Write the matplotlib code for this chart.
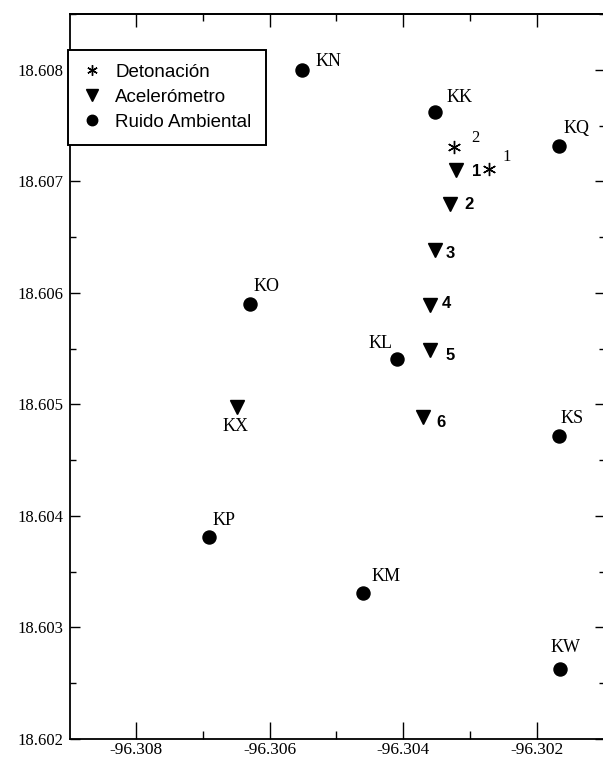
import matplotlib.pyplot as plt
from matplotlib.ticker import MultipleLocator, FormatStrFormatter

plt.rcParams['axes.unicode_minus'] = False
plt.rcParams['font.family'] = 'Liberation Serif'

# Ruido ambiental
ruido_nom = ['KN', 'KK', 'KQ', 'KO', 'KL', 'KS', 'KP', 'KM', 'KW']
ruido_lon = [-96.30551, -96.30352, -96.30167, -96.30630, -96.30409, -96.30167, -96.30690, -96.30460, -96.30166]
ruido_lat = [18.60800, 18.60762, 18.60732, 18.60590, 18.60541, 18.60472, 18.60381, 18.60331, 18.60263]

# Acelerometros
acel_nom = ['KX', '1', '2', '3', '4', '5', '6']
acel_lon = [-96.30649, -96.30321, -96.30330, -96.30352, -96.30360, -96.30360, -96.30370]
acel_lat = [18.60498, 18.60710, 18.60680, 18.60638, 18.60589, 18.60549, 18.60489]

# Detonaciones
det_nom = ['1', '2']
det_lon = [-96.30272, -96.30324]
det_lat = [18.60711, 18.60731]

px = 1 / 1.389  # pixeles -> puntos

fig = plt.figure(figsize=(6.03, 7.61), dpi=100)
ax = fig.add_axes([70 / 603, 22 / 761, 535 / 603, 725 / 761])

ax.plot(det_lon, det_lat, ls='none', marker=(6, 2, 0), ms=9.5, mew=1.0, color='k', label='Detonación')
ax.plot(acel_lon, acel_lat, ls='none', marker='v', ms=10, color='k', label='Acelerómetro')
ax.plot(ruido_lon, ruido_lat, ls='none', marker='o', ms=9.4, color='k', label='Ruido Ambiental')

# etiquetas de estaciones (offset en pixeles: dx, dy hacia arriba)
off_ruido = {'KN': (13, 8, 'left'), 'KK': (11, 15, 'left'), 'KQ': (4, 17, 'left'),
             'KO': (4, 18, 'left'), 'KL': (-5, 15, 'right'), 'KS': (1, 17, 'left'),
             'KP': (3, 17, 'left'), 'KM': (8, 16, 'left'), 'KW': (6, 21, 'center')}
for n, x, y in zip(ruido_nom, ruido_lon, ruido_lat):
    dx, dy, ha = off_ruido[n]
    ax.annotate(n, (x, y), xytext=(dx * px, dy * px), textcoords='offset points',
                ha=ha, va='center', fontsize=13)

off_acel = {'KX': (-1, -20), '1': (16, -1), '2': (14, -1), '3': (10, -3),
            '4': (12, 2), '5': (15, -6), '6': (13, -6)}
for n, x, y in zip(acel_nom, acel_lon, acel_lat):
    dx, dy = off_acel[n]
    if n == 'KX':
        ax.annotate(n, (x, y), xytext=(dx * px, dy * px), textcoords='offset points',
                    ha='center', va='center', fontsize=13)
    else:
        ax.annotate(n, (x, y), xytext=(dx * px, dy * px), textcoords='offset points',
                    ha='left', va='center', fontsize=12, family='Liberation Sans', weight='bold')

off_det = {'1': (14, 12), '2': (17, 9)}
for n, x, y in zip(det_nom, det_lon, det_lat):
    dx, dy = off_det[n]
    ax.annotate(n, (x, y), xytext=(dx * px, dy * px), textcoords='offset points',
                ha='left', va='center', fontsize=12)

ax.set_xlim(-96.308985, -96.300985)
ax.set_ylim(18.602, 18.6085)
ax.set_xticks([-96.308, -96.306, -96.304, -96.302])
ax.xaxis.set_minor_locator(MultipleLocator(0.001))
ax.yaxis.set_major_locator(MultipleLocator(0.001))
ax.yaxis.set_minor_locator(MultipleLocator(0.0005))
ax.xaxis.set_major_formatter(FormatStrFormatter('%.3f'))
ax.yaxis.set_major_formatter(FormatStrFormatter('%.3f'))

ax.tick_params(axis='x', which='both', direction='in', top=False, labelsize=12.5, pad=2.5)
ax.tick_params(axis='x', which='major', length=12, width=1)
ax.tick_params(axis='x', which='minor', length=6, width=1)
ax.tick_params(axis='y', which='both', direction='in', right=True, labelsize=12, pad=5)
ax.tick_params(axis='y', which='major', length=7.5, width=1)
ax.tick_params(axis='y', which='minor', length=4.5, width=1)

sec = ax.secondary_xaxis('top')
sec.set_xticks([-96.308, -96.306, -96.304, -96.302])
sec.xaxis.set_minor_locator(MultipleLocator(0.001))
sec.tick_params(which='both', direction='in', labeltop=False, width=1)
sec.tick_params(which='major', length=9.5)
sec.tick_params(which='minor', length=5)
sec.spines['top'].set_linewidth(1.3)

for s in ax.spines.values():
    s.set_linewidth(1.3)

leg = ax.legend(loc='upper left', bbox_to_anchor=(-0.003, 0.951), borderaxespad=0,
                prop={'family': 'Liberation Sans', 'size': 13.5}, fancybox=False,
                edgecolor='k', framealpha=1, handlelength=1.0, handletextpad=0.75,
                labelspacing=0.42, borderpad=0.75, markerscale=0.8)
leg.get_frame().set_linewidth(1.4)

fig.savefig('out.png', dpi=100)
